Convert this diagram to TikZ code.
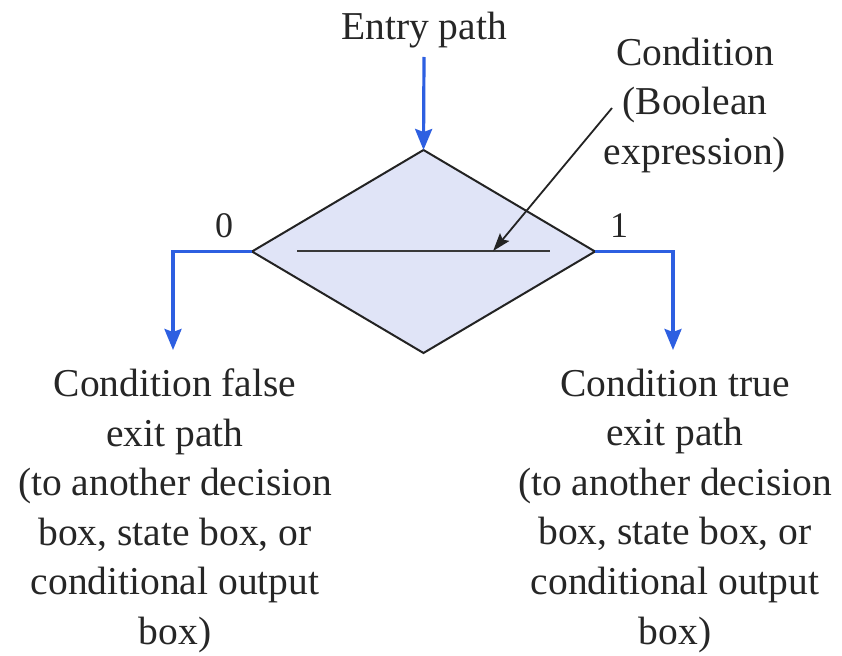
\documentclass[tikz,border=0pt]{standalone}
\usepackage{fontspec}
\setmainfont{Liberation Serif}
\usetikzlibrary{shapes.geometric,arrows.meta,calc}

\definecolor{flowblue}{RGB}{45,95,225}
\definecolor{boxfill}{RGB}{224,228,247}
\definecolor{edgegray}{RGB}{35,35,35}

\tikzset{
  flow/.style={draw=flowblue, line width=3.2pt,
    -{Stealth[length=21pt,width=17pt,inset=3pt]}},
  pointer/.style={draw=edgegray, line width=1.8pt,
    -{Stealth[length=18pt,width=12pt,inset=3pt]}},
  decision/.style={shape=diamond, draw=edgegray, line width=2pt, fill=boxfill,
    minimum width=343pt, minimum height=203pt, inner sep=0pt, outer sep=0pt},
  label/.style={font=\fontsize{39.5}{49.6}\selectfont, align=center,
    inner sep=0pt, text=black!85},
  digit/.style={font=\fontsize{36}{40}\selectfont, inner sep=0pt, text=black!85}
}

\begin{document}
\begin{tikzpicture}[x=1pt,y=-1pt]
  \useasboundingbox[fill=white] (0,0) rectangle (842,655);

  % decision box with the condition line
  \node[decision] (d) at (423.5,251.5) {};
  \coordinate (lineL) at (297,251);
  \coordinate (lineR) at (550,251);
  \draw[edgegray!90, line width=2.4pt] (lineL) -- (lineR);

  % entry path
  \node[label, anchor=base] (entry) at (424,40) {Entry path};
  \coordinate (entryTop) at (424,57);
  \draw[flow] (entryTop) -- (d.north);

  % condition annotation
  \node[label, anchor=north] (cond) at (695,37.5)
    {Condition\\(Boolean\\expression)};
  \coordinate (condStart) at (612,108);
  \coordinate (condTip) at ($(lineL)!0.775!(lineR)$);
  \draw[pointer] (condStart) -- (condTip);

  % exit paths
  \node[digit, anchor=base] (zero) at (224,237) {0};
  \node[digit, anchor=base] (one) at (619,237) {1};
  \coordinate (falseEnd) at (173,350);
  \coordinate (trueEnd) at (673,350);
  \draw[flow] (d.west) -| (falseEnd);
  \draw[flow] (d.east) -| (trueEnd);

  \node[label, anchor=north] (falsetext) at (175,368.5)
    {Condition false\\exit path\\(to another decision\\box, state box, or\\conditional output\\box)};
  \node[label, anchor=north] (truetext) at (675,368.5)
    {Condition true\\exit path\\(to another decision\\box, state box, or\\conditional output\\box)};
\end{tikzpicture}
\end{document}
